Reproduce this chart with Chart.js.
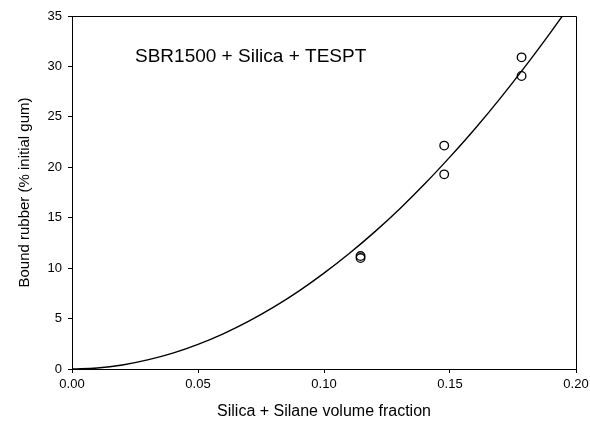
<!DOCTYPE html>
<html><head><meta charset="utf-8">
<script src="https://cdn.jsdelivr.net/npm/chart.js@4"></script>
<style>html,body{margin:0;padding:0;background:#fff}#w{width:590px;height:425px}</style>
</head><body><div id="w"><canvas id="c" width="590" height="425"></canvas></div>
<script>
const pointX = [0.1145, 0.1145, 0.1477, 0.1477, 0.1784, 0.1784];
const pointY = [11.0, 11.2, 22.15, 19.3, 30.9, 29.05];
const curveX = [0, 0.01, 0.02, 0.03, 0.04, 0.05, 0.06, 0.07, 0.08, 0.09, 0.10, 0.11, 0.12, 0.13, 0.14, 0.15, 0.16, 0.17, 0.18, 0.19, 0.1946];
const curveY = [0, 0.1, 0.4, 0.9, 1.57, 2.44, 3.49, 4.72, 6.13, 7.72, 9.5, 11.45, 13.57, 15.87, 18.36, 21.03, 23.85, 26.86, 30.05, 33.4, 35.0];
const xTicks = [0, 0.05, 0.10, 0.15, 0.20];
const yTicks = [0, 5, 10, 15, 20, 25, 30, 35];
const annotationText = 'SBR1500 + Silica + TESPT';
const xTitle = 'Silica + Silane volume fraction';
const yTitle = 'Bound rubber (% initial gum)';

const FONT = 'Liberation Sans, Arial, sans-serif';
const frame = {
  id: 'frame',
  afterDatasetsDraw(chart) {
    const {ctx, chartArea: a} = chart;
    ctx.save();
    ctx.strokeStyle = '#000'; ctx.lineWidth = 1;
    ctx.beginPath();
    ctx.moveTo(a.left, a.top + 0.5); ctx.lineTo(a.right + 0.5, a.top + 0.5); ctx.lineTo(a.right + 0.5, a.bottom);
    ctx.stroke();
    ctx.fillStyle = '#000';
    ctx.font = '19px ' + FONT;
    ctx.textBaseline = 'middle';
    ctx.fillText(annotationText, 135, 57);
    ctx.restore();
  }
};

new Chart(document.getElementById('c'), {
  type: 'scatter',
  data: {
    datasets: [
      {
        type: 'line',
        data: curveX.map((x, i) => ({x, y: curveY[i]})),
        borderColor: '#000', borderWidth: 1.4, pointRadius: 0,
        tension: 0.4, fill: false
      },
      {
        data: pointX.map((x, i) => ({x, y: pointY[i]})),
        borderColor: '#000', backgroundColor: 'rgba(255,255,255,0)', borderWidth: 1.3,
        pointRadius: 4.3, pointStyle: 'circle'
      }
    ]
  },
  options: {
    responsive: false, animation: false,
    layout: {padding: {left: 12, right: 14, top: 16, bottom: 0}},
    plugins: {legend: {display: false}, tooltip: {enabled: false}},
    scales: {
      x: {
        type: 'linear', min: 0, max: 0.2,
        afterBuildTicks: s => { s.ticks = xTicks.map(v => ({value: v})); },
        afterFit: s => { s.height = 56; s.paddingRight = 0; s.paddingLeft = 0; },
        border: {color: '#000', width: 1},
        grid: {drawOnChartArea: false, tickLength: 4, color: '#000'},
        ticks: {color: '#000', font: {size: 13, family: FONT}, padding: 4,
          callback: v => v.toFixed(2)},
        title: {display: true, text: xTitle, color: '#000', font: {size: 16, family: FONT}, padding: {top: 16}}
      },
      y: {
        min: 0, max: 35,
        afterBuildTicks: s => { s.ticks = yTicks.map(v => ({value: v})); },
        afterFit: s => { s.width = 60; s.paddingTop = 0; s.paddingBottom = 0; },
        border: {color: '#000', width: 1},
        grid: {drawOnChartArea: false, tickLength: 4, color: '#000'},
        ticks: {color: '#000', font: {size: 13, family: FONT}, padding: 6},
        title: {display: true, text: yTitle, color: '#000', font: {size: 15, family: FONT}, padding: {bottom: 4}}
      }
    }
  },
  plugins: [frame]
});
</script></body></html>
